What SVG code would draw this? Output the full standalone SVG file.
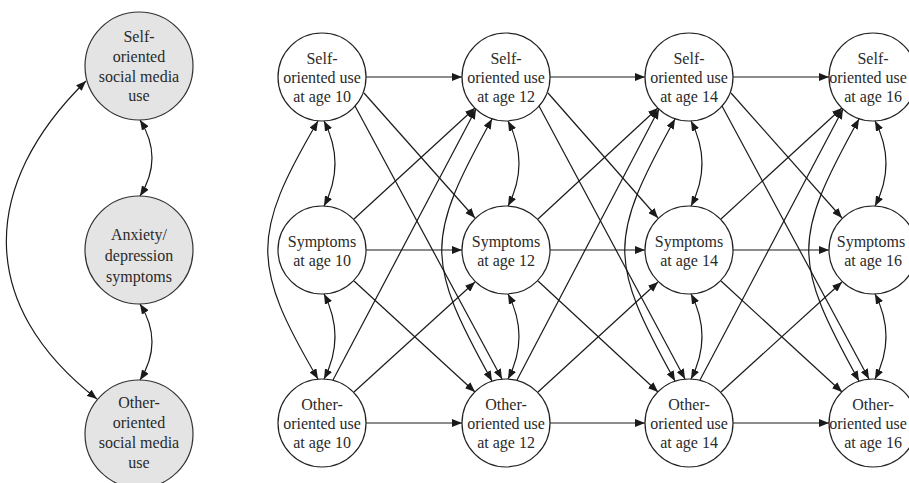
<svg xmlns="http://www.w3.org/2000/svg" width="909" height="483" viewBox="0 0 909 483" font-family="Liberation Serif, DejaVu Serif, Times New Roman, serif">
<defs>
<marker id="ah" viewBox="0 0 10 8" refX="10" refY="4" markerWidth="10" markerHeight="8" markerUnits="userSpaceOnUse" orient="auto-start-reverse">
<path d="M0,0 L10,4 L0,8 z" fill="#1a1a1a"/>
</marker>
<style>
.n{fill:#fff;stroke:#222;stroke-width:1.2}
.g{fill:#e4e4e4;stroke:#333;stroke-width:1.2}
text{font-size:16px;fill:#2a2a2a;text-anchor:middle}
.c path{fill:none;stroke:#1a1a1a;stroke-width:1.2;marker-end:url(#ah)}
.c path.d{marker-start:url(#ah)}
</style>
</defs>
<rect width="909" height="483" fill="#fff"/>

<g id="legend-self"><circle class="g" cx="139" cy="66" r="54"/><text x="139" y="42">Self-</text><text x="139" y="62">oriented</text><text x="139" y="82">social media</text><text x="139" y="101">use</text></g>
<g id="legend-symptoms"><circle class="g" cx="139" cy="250" r="54"/><text x="139" y="240">Anxiety/</text><text x="139" y="261">depression</text><text x="139" y="282">symptoms</text></g>
<g id="legend-other"><circle class="g" cx="139" cy="434" r="54"/><text x="139" y="408">Other-</text><text x="139" y="428">oriented</text><text x="139" y="448">social media</text><text x="139" y="468">use</text></g>

<g id="self10"><circle class="n" cx="322" cy="77" r="44"/><text x="322" y="64">Self-</text><text x="322" y="83">oriented use</text><text x="322" y="102">at age 10</text></g>
<g id="sym10"><circle class="n" cx="322" cy="250" r="44"/><text x="322" y="247">Symptoms</text><text x="322" y="266">at age 10</text></g>
<g id="other10"><circle class="n" cx="322" cy="423" r="44"/><text x="322" y="410">Other-</text><text x="322" y="429">oriented use</text><text x="322" y="448">at age 10</text></g>

<g id="self12"><circle class="n" cx="506" cy="77" r="44"/><text x="506" y="64">Self-</text><text x="506" y="83">oriented use</text><text x="506" y="102">at age 12</text></g>
<g id="sym12"><circle class="n" cx="506" cy="250" r="44"/><text x="506" y="247">Symptoms</text><text x="506" y="266">at age 12</text></g>
<g id="other12"><circle class="n" cx="506" cy="423" r="44"/><text x="506" y="410">Other-</text><text x="506" y="429">oriented use</text><text x="506" y="448">at age 12</text></g>

<g id="self14"><circle class="n" cx="689" cy="77" r="44"/><text x="689" y="64">Self-</text><text x="689" y="83">oriented use</text><text x="689" y="102">at age 14</text></g>
<g id="sym14"><circle class="n" cx="689" cy="250" r="44"/><text x="689" y="247">Symptoms</text><text x="689" y="266">at age 14</text></g>
<g id="other14"><circle class="n" cx="689" cy="423" r="44"/><text x="689" y="410">Other-</text><text x="689" y="429">oriented use</text><text x="689" y="448">at age 14</text></g>

<g id="self16"><circle class="n" cx="873" cy="77" r="44"/><text x="873" y="64">Self-</text><text x="868" y="83">oriented use</text><text x="873" y="102">at age 16</text></g>
<g id="sym16"><circle class="n" cx="873" cy="250" r="44"/><text x="871" y="247">Symptoms</text><text x="873" y="266">at age 16</text></g>
<g id="other16"><circle class="n" cx="873" cy="423" r="44"/><text x="873" y="410">Other-</text><text x="868" y="429">oriented use</text><text x="873" y="448">at age 16</text></g>

<g id="connectors" class="c">
<path class="d" d="M86,81 C-20,185 -24,305 97,399"/>
<path class="d" d="M140,120 Q164,158 140,196"/>
<path class="d" d="M140,304 Q164,342 140,380"/>

<path class="d" d="M324,121 Q346,163.5 324,206"/>
<path class="d" d="M324,294 Q346,336.5 324,379"/>
<path class="d" d="M318,121 C251,235 251,265 318,379"/>
<path class="d" d="M508,121 Q530,163.5 508,206"/>
<path class="d" d="M508,294 Q530,336.5 508,379"/>
<path class="d" d="M492,119 C425,240 425,260 492,381"/>
<path class="d" d="M691,121 Q713,163.5 691,206"/>
<path class="d" d="M691,294 Q713,336.5 691,379"/>
<path class="d" d="M675,119 C608,240 608,260 675,381"/>
<path class="d" d="M875,121 Q897,163.5 875,206"/>
<path class="d" d="M875,294 Q897,336.5 875,379"/>
<path class="d" d="M859,119 C792,240 792,260 859,381"/>

<path d="M366,77 L462,77"/>
<path d="M366,250 L462,250"/>
<path d="M366,423 L462,423"/>
<path d="M364,93 L475,218"/>
<path d="M355,106 L502,379"/>
<path d="M354,219 L475,108"/>
<path d="M354,281 L475,392"/>
<path d="M333,380 L476,109"/>
<path d="M354,392 L475,282"/>

<path d="M550,77 L645,77"/>
<path d="M550,250 L645,250"/>
<path d="M550,423 L645,423"/>
<path d="M548,93 L658,218"/>
<path d="M539,106 L685,379"/>
<path d="M538,219 L658,108"/>
<path d="M538,281 L658,392"/>
<path d="M517,380 L659,109"/>
<path d="M538,392 L658,282"/>

<path d="M733,77 L829,77"/>
<path d="M733,250 L829,250"/>
<path d="M733,423 L829,423"/>
<path d="M731,93 L842,218"/>
<path d="M722,106 L869,379"/>
<path d="M721,219 L842,108"/>
<path d="M721,281 L842,392"/>
<path d="M700,380 L843,109"/>
<path d="M721,392 L842,282"/>
</g>
</svg>
